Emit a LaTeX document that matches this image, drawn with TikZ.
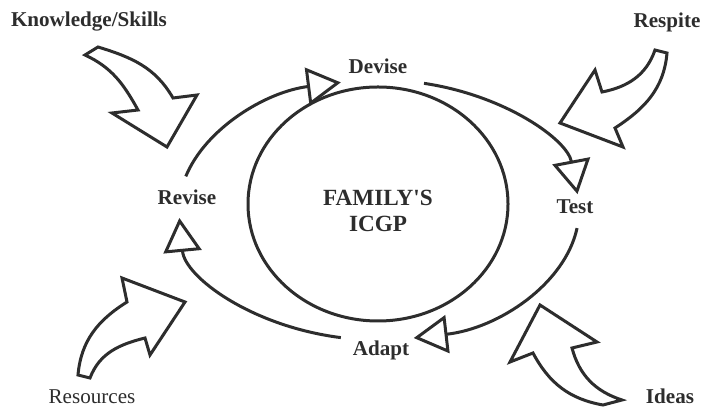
\documentclass[tikz,border=0pt]{standalone}
\usepackage{fontspec}
\setmainfont{Liberation Serif}
\definecolor{ink}{RGB}{45, 45, 45}
\usetikzlibrary{arrows.meta, calc}

\begin{document}
\begin{tikzpicture}[x=0.25mm, y=0.25mm,
  cyclearc/.style={draw=ink, line width=0.75mm, -{Triangle[open, length=8.5mm, width=9.5mm]}},
  blockarrow/.style={draw=ink, line width=0.75mm, fill=white, line join=miter},
  lbl/.style={text=ink, anchor=base, inner sep=0pt, font=\fontsize{15}{17}\selectfont\bfseries}]
  \useasboundingbox (0,0) rectangle (702,-410);

  % Centre of the cycle
  \coordinate (c) at (379,-210);

  % Inner ellipse and plan
  \draw[ink, line width=0.75mm] (378,-204) ellipse [x radius=32.5mm, y radius=29.25mm];
  \node[text=ink, align=center, inner sep=0pt, font=\fontsize{16.5}{18.5}\selectfont\bfseries] (plan) at (378,-211) {FAMILY\textquotesingle S\\ICGP};

  % Cycle labels
  \node[lbl] (devise) at (378,-74) {Devise};
  \node[lbl] (test) at (575,-214) {Test};
  \node[lbl] (adapt) at (381,-356) {Adapt};
  \node[lbl] (revise) at (187,-205) {Revise};

  % Cycle arcs
  \coordinate (revise-out) at ($(c)+(165:50mm and 32.5mm)$);
  \coordinate (devise-out) at ($(c)+(77:50mm and 32.5mm)$);
  \coordinate (test-out) at ($(c)+(-8:50mm and 32.5mm)$);
  \coordinate (adapt-out) at ($(c)+(-101:50mm and 32.5mm)$);
  \draw[cyclearc] (revise-out) arc[start angle=165, end angle=101, x radius=50mm, y radius=32.5mm];
  \draw[cyclearc] (devise-out) arc[start angle=77, end angle=7, x radius=50mm, y radius=32.5mm];
  \draw[cyclearc] (test-out) arc[start angle=-8, end angle=-80, x radius=50mm, y radius=32.5mm];
  \draw[cyclearc] (adapt-out) arc[start angle=-101, end angle=-176.5, x radius=50mm, y radius=32.5mm];

  % Inputs
  \node[lbl] (knowledge) at (89,-27) {Knowledge/Skills};
  \node[lbl] (respite) at (667,-28) {Respite};
  \node[lbl, font=\fontsize{15}{17}\selectfont] (resources) at (92,-404) {Resources};
  \node[lbl] (ideas) at (670,-404) {Ideas};

  % Block arrows
  \draw[blockarrow] (138,-110) to[out=119, in=-25] (85,-55) -- (98,-47) to[out=-17, in=120] (173,-98)
    -- (197,-95) -- (167,-147) -- (112,-113) -- cycle;
  \draw[blockarrow] (602,-92) to[out=11, in=-109] (655,-50) -- (667,-53) to[out=-95, in=33] (615,-128)
    -- (623,-147) -- (560,-123) -- (595,-70) -- cycle;
  \draw[blockarrow] (145,-338) to[out=194, in=69] (90,-378) -- (78,-375) to[out=85, in=-148] (127,-302)
    -- (122,-278) -- (185,-302) -- (150,-355) -- cycle;
  \draw[blockarrow] (533,-353) to[out=-62, in=170] (603,-405) -- (622,-400) to[out=162, in=-75] (572,-348)
    -- (597,-342) -- (540,-305) -- (510,-362) -- cycle;
\end{tikzpicture}
\end{document}
